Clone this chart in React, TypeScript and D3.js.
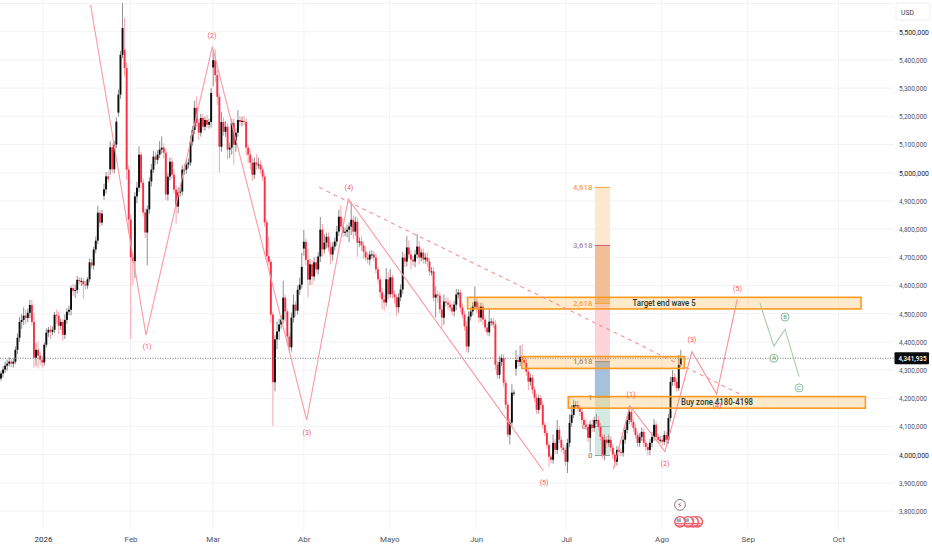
import * as d3 from 'd3';
import { useEffect, useRef } from 'react';

// 12h closes, ten sessions per row
const closes = [
  4288, 4302, 4316, 4323, 4330, 4323, 4330, 4372, 4415, 4471,
  4478, 4493, 4485, 4503, 4531, 4471, 4344, 4372, 4351, 4337,
  4327, 4390, 4433, 4443, 4436, 4443, 4496, 4493, 4457, 4471,
  4425, 4478, 4507, 4514, 4591, 4581, 4584, 4620, 4616, 4616,
  4604, 4600, 4622, 4682, 4671, 4728, 4759, 4858, 4823, 4855,
  4941, 4987, 4977, 5090, 5012, 5100, 5181, 5277, 5418, 5513,
  5371, 5011, 4834, 4700, 4686, 4916, 4947, 5064, 4965, 4859,
  4788, 4870, 4969, 5011, 5057, 5046, 5064, 5082, 5089, 5071,
  4923, 4986, 5039, 4993, 4940, 4880, 4930, 4933, 5011, 5011,
  5029, 5036, 5110, 5152, 5230, 5177, 5142, 5194, 5163, 5187,
  5170, 5180, 5283, 5399, 5346, 5269, 5092, 5180, 5145, 5163,
  5082, 5089, 5177, 5099, 5142, 5187, 5180, 5184, 5180, 5089,
  5064, 5036, 4993, 5036, 5029, 5029, 5011, 4986, 4824, 4704,
  4684, 4497, 4257, 4409, 4437, 4462, 4479, 4557, 4508, 4419,
  4381, 4486, 4532, 4511, 4585, 4603, 4666, 4755, 4691, 4621,
  4675, 4632, 4682, 4657, 4703, 4798, 4728, 4752, 4773, 4735,
  4710, 4738, 4756, 4791, 4844, 4809, 4787, 4791, 4798, 4809,
  4833, 4791, 4826, 4752, 4756, 4742, 4720, 4699, 4692, 4710,
  4710, 4699, 4657, 4622, 4576, 4551, 4540, 4622, 4569, 4629,
  4569, 4558, 4523, 4558, 4586, 4699, 4685, 4735, 4710, 4692,
  4685, 4710, 4738, 4699, 4717, 4692, 4699, 4685, 4650, 4650,
  4557, 4568, 4564, 4515, 4486, 4543, 4539, 4532, 4522, 4508,
  4532, 4568, 4575, 4522, 4497, 4455, 4384, 4490, 4508, 4525,
  4543, 4522, 4486, 4525, 4479, 4451, 4434, 4472, 4472, 4462,
  4319, 4283, 4329, 4343, 4255, 4177, 4071, 4114, 4220, 4220,
  4336, 4329, 4347, 4336, 4326, 4294, 4259, 4273, 4230, 4202,
  4159, 4201, 4176, 4106, 4077, 4035, 3993, 3982, 4042, 4017,
  4088, 4053, 4025, 4017, 3975, 4042, 4113, 4141, 4176, 4176,
  4166, 4152, 4123, 4106, 4099, 4060, 4106, 4095, 4123, 4123,
  4099, 4063, 4000, 4053, 4042, 4053, 4025, 4000, 3975, 4017,
  4010, 4007, 4053, 4088, 4123, 4152, 4116, 4095, 4070, 4042,
  4063, 4081, 4042, 4028, 4017, 4042, 4063, 4106, 4063, 4053,
  4053, 4046, 4070, 4053, 4130, 4258, 4275, 4258, 4236, 4319, 4341.935,
];

// upper wick above the body, USD
const wickUp = [
  10, 12, 14, 14, 16, 10, 12, 12, 15, 18,
  20, 30, 20, 15, 18, 18, 30, 25, 30, 12,
  12, 8, 15, 10, 15, 12, 10, 18, 15, 12,
  10, 20, 12, 14, 8, 15, 20, 14, 10, 12,
  10, 12, 8, 14, 12, 10, 15, 25, 10, 14,
  20, 15, 18, 22, 15, 12, 15, 18, 14, 88,
  113, 20, 15, 20, 15, 15, 20, 30, 10, 15,
  15, 14, 15, 20, 20, 18, 15, 30, 40, 15,
  15, 14, 15, 15, 18, 15, 18, 14, 15, 20,
  18, 15, 22, 14, 25, 40, 14, 15, 15, 12,
  18, 12, 18, 35, 40, 18, 14, 35, 15, 20,
  12, 18, 14, 15, 15, 35, 14, 14, 18, 14,
  10, 18, 15, 18, 30, 25, 15, 12, 12, 10,
  70, 8, 10, 15, 35, 20, 15, 60, 10, 10,
  15, 18, 35, 12, 15, 25, 50, 42, 12, 40,
  20, 15, 18, 20, 15, 45, 20, 30, 14, 15,
  18, 15, 14, 20, 25, 40, 30, 15, 18, 15,
  60, 15, 18, 14, 15, 18, 15, 20, 18, 14,
  15, 12, 14, 10, 12, 15, 15, 40, 25, 30,
  10, 12, 10, 15, 18, 20, 14, 40, 25, 15,
  12, 15, 45, 20, 14, 14, 15, 20, 12, 15,
  15, 30, 14, 14, 14, 25, 15, 18, 15, 14,
  14, 20, 12, 10, 14, 12, 18, 18, 15, 15,
  53, 15, 15, 14, 12, 12, 14, 45, 12, 14,
  15, 14, 20, 12, 14, 12, 10, 12, 30, 10,
  35, 18, 40, 45, 14, 14, 14, 14, 12, 12,
  14, 12, 12, 15, 10, 12, 12, 10, 30, 14,
  35, 14, 12, 12, 12, 14, 30, 35, 20, 14,
  15, 10, 14, 12, 20, 12, 15, 20, 12, 22,
  14, 14, 10, 18, 14, 18, 12, 12, 10, 14,
  10, 12, 15, 12, 14, 20, 12, 12, 14, 12,
  14, 15, 12, 12, 10, 14, 18, 20, 12, 10,
  14, 14, 14, 12, 15, 18, 25, 14, 14, 35, 30,
];

// lower wick under the body, USD
const wickDown = [
  8, 14, 12, 18, 10, 12, 14, 8, 16, 15,
  25, 18, 22, 15, 20, 12, 35, 30, 45, 20,
  18, 12, 10, 15, 25, 12, 12, 28, 30, 15,
  20, 15, 14, 12, 20, 18, 25, 12, 12, 18,
  50, 14, 12, 10, 12, 15, 14, 12, 15, 10,
  14, 15, 12, 20, 14, 15, 12, 14, 15, 12,
  30, 35, 40, 290, 85, 60, 25, 15, 20, 15,
  20, 116, 15, 18, 12, 18, 15, 12, 15, 20,
  20, 22, 14, 15, 14, 60, 25, 15, 14, 18,
  15, 14, 12, 14, 15, 14, 25, 14, 12, 15,
  12, 14, 20, 67, 25, 30, 92, 18, 14, 18,
  35, 30, 25, 70, 25, 15, 14, 15, 14, 30,
  30, 25, 22, 15, 18, 15, 14, 14, 15, 15,
  12, 30, 155, 32, 35, 30, 15, 14, 35, 30,
  18, 15, 18, 20, 14, 18, 14, 25, 20, 63,
  20, 30, 15, 14, 18, 20, 25, 15, 20, 15,
  35, 22, 14, 15, 15, 14, 15, 12, 20, 45,
  30, 25, 15, 50, 15, 20, 25, 12, 14, 20,
  15, 14, 15, 18, 20, 35, 30, 14, 18, 12,
  15, 22, 30, 20, 14, 15, 20, 18, 14, 35,
  15, 20, 14, 25, 14, 15, 15, 18, 14, 15,
  14, 70, 25, 15, 40, 25, 14, 18, 15, 14,
  18, 20, 14, 15, 14, 15, 20, 22, 14, 14,
  12, 20, 18, 15, 18, 14, 12, 14, 15, 14,
  18, 15, 14, 15, 14, 15, 10, 35, 15, 12,
  25, 18, 15, 14, 12, 14, 30, 14, 15, 15,
  15, 14, 15, 14, 12, 14, 35, 12, 14, 15,
  15, 12, 14, 14, 15, 40, 15, 14, 12, 14,
  12, 14, 15, 14, 12, 15, 50, 14, 14, 14,
  15, 12, 14, 20, 18, 14, 14, 15, 20, 14,
  15, 12, 14, 14, 12, 14, 14, 14, 12, 14,
  14, 14, 15, 14, 20, 18, 15, 14, 15, 12,
  12, 14, 12, 15, 14, 12, 14, 15, 12, 10, 8,
];

// sessions that opened away from the previous close: [session, open]
const gapOpens: [number, number][] = [
  [0, 4270], [50, 4918], [53, 5012], [57, 5213], [60, 5436],
  [103, 5373], [147, 4731], [250, 4305],
];

const priceTicks = d3.range(3800, 5600, 100);
const strongTicks = [5500, 5000, 4000];
const monthBars = [20.4, 62.9, 102.8, 147, 188.5, 230.6, 274.3, 320.7, 362.5, 406.5];
const monthNames = ['2026', 'Feb', 'Mar', 'Abr', 'Mayo', 'Jun', 'Jul', 'Ago', 'Sep', 'Oct'];
const lastPrice = 4341.935;

// Elliott counts: [session, price]
const impulseWave: [number, number][] = [[43.5, 5595], [70.4, 4424], [102.6, 5447], [148.4, 4123], [168.6, 4907], [263.3, 3943]];
const newImpulseWave: [number, number][] = [[297.2, 3948], [305.3, 4173], [322.3, 4011], [335.4, 4365], [347.4, 4215], [357.4, 4551]];
const correctionWave: [number, number][] = [[368.4, 4537], [375.2, 4385], [380.6, 4445], [387.4, 4277]];
const trendLine: [number, number][] = [[154.5, 4948], [359.6, 4212]];

const waveLabels: [string, number, number][] = [
  ['(1)', 70.9, 4382], ['(2)', 102.4, 5488], ['(3)', 148.5, 4077], ['(4)', 168.9, 4946], ['(5)', 263.6, 3900],
  ['(1)', 305.8, 4215], ['(2)', 322.3, 3967], ['(3)', 335.4, 4407], ['(4)', 347.6, 4176], ['(5)', 357.5, 4588],
];
const correctionLabels: [string, number, number][] = [['A', 375.2, 4342], ['B', 380.6, 4488], ['C', 387.4, 4237]];

// zones: [first session, last session, low, high]
const zones: [number, number, number, number][] = [
  [226.5, 417.5, 4517, 4558],
  [252.8, 331.7, 4306, 4348],
  [275.4, 419.6, 4165, 4206],
];
const zoneTexts: [string, number, number, number][] = [
  ['Target end wave 5', 321.9, 4538, 63],
  ['Buy zone 4180-4198', 347.6, 4187, 72],
];

// fib extension column
const fibStart = 288.3;
const fibEnd = 295.6;
const fibNames = ['0', '0,5', '1', '1,618', '2,618', '3,618', '4,618'];
const fibPrices = [3997, 4100, 4203, 4330, 4536, 4742, 4948];
const fibBandColors = ['#cfe9e2', '#d3ebe3', '#a6c1dc', '#fdd3da', '#f1be98', '#fee8cd'];
const fibLineColors = ['#9a9a9a', '#8fbfa8', '#b9a9a0', '#8a8a8a', '#f7a23b', '#c2607c', '#f7a23b'];
const fibTextColors = ['#8a8a8a', '#8a8a8a', '#8a8a8a', '#8a8a8a', '#f7a23b', '#a98e9c', '#f7a23b'];

const flagBars = [338, 336, 333.5, 329.6];
const flagPrice = 3762;
const boltBar = 329.6;
const boltPrice = 3822;

const WIDTH = 932;
const HEIGHT = 550;
const FONT = 'Roboto, "Noto Sans", sans-serif';
const RED = '#f7525f';
const GREEN = '#8dbd94';
const ORANGE = '#ff9a1f';

const App = () => {
  const svgRef = useRef<SVGSVGElement | null>(null);

  useEffect(() => {
    if (!svgRef.current) return;
    d3.select(svgRef.current).selectAll('*').remove();
    const svg = d3.select(svgRef.current);

    const x = d3.scaleLinear().domain([0, 330]).range([1, 680.8]);
    const y = d3.scaleLinear().domain([3800, 5500]).range([511.1, 31.7]);

    const candles = closes.map((close, i) => {
      const gap = gapOpens.find(g => g[0] === i);
      const open = gap ? gap[1] : closes[i - 1];
      return {
        i, open, close,
        high: Math.max(open, close) + wickUp[i],
        low: Math.min(open, close) - wickDown[i],
      };
    });

    svg.append('rect').attr('width', WIDTH).attr('height', HEIGHT).attr('fill', '#ffffff');

    // grid
    svg.append('g').selectAll('line').data([...priceTicks, 5600]).join('line')
      .attr('x1', 0).attr('x2', 894)
      .attr('y1', d => y(d)).attr('y2', d => y(d))
      .attr('stroke', '#f3f3f5');
    svg.append('g').selectAll('line').data(monthBars).join('line')
      .attr('x1', d => x(d)).attr('x2', d => x(d))
      .attr('y1', 0).attr('y2', 530)
      .attr('stroke', '#f3f3f5');

    // fib column
    const fib = svg.append('g');
    fib.selectAll('rect').data(fibBandColors).join('rect')
      .attr('x', x(fibStart)).attr('width', x(fibEnd) - x(fibStart))
      .attr('y', (_, i) => y(fibPrices[i + 1]))
      .attr('height', (_, i) => y(fibPrices[i]) - y(fibPrices[i + 1]))
      .attr('fill', d => d);
    fib.selectAll('line').data(fibPrices).join('line')
      .attr('x1', x(fibStart)).attr('x2', x(fibEnd))
      .attr('y1', d => y(d)).attr('y2', d => y(d))
      .attr('stroke', (_, i) => fibLineColors[i]);
    fib.selectAll('text').data(fibPrices).join('text')
      .attr('x', x(fibStart) - 2.5).attr('y', d => y(d))
      .attr('dy', '0.35em').attr('text-anchor', 'end')
      .attr('font-family', FONT).attr('font-size', 7.8).attr('font-weight', 500)
      .attr('fill', (_, i) => fibTextColors[i])
      .text((_, i) => fibNames[i]);

    // candles
    const bars = svg.append('g');
    bars.selectAll('line').data(candles).join('line')
      .attr('x1', d => x(d.i)).attr('x2', d => x(d.i))
      .attr('y1', d => y(d.high)).attr('y2', d => y(d.low))
      .attr('stroke', d => (d.close >= d.open ? '#8f8f8f' : '#f9a3ab'))
      .attr('stroke-width', 1);
    bars.selectAll('rect').data(candles).join('rect')
      .attr('x', d => x(d.i) - 0.95).attr('width', 1.9)
      .attr('y', d => y(Math.max(d.open, d.close)))
      .attr('height', d => Math.max(1, Math.abs(y(d.open) - y(d.close))))
      .attr('fill', d => (d.close >= d.open ? '#0c0c0c' : '#f92f45'));

    // last price line
    svg.append('line')
      .attr('x1', 0).attr('x2', 894)
      .attr('y1', y(lastPrice)).attr('y2', y(lastPrice))
      .attr('stroke', '#777').attr('stroke-dasharray', '1 1.5');

    // zones
    svg.append('g').selectAll('rect').data(zones).join('rect')
      .attr('x', d => x(d[0])).attr('width', d => x(d[1]) - x(d[0]))
      .attr('y', d => y(d[3])).attr('height', d => y(d[2]) - y(d[3]))
      .attr('fill', 'rgba(255,152,0,0.2)')
      .attr('stroke', ORANGE).attr('stroke-width', 1.6);
    svg.append('g').selectAll('text').data(zoneTexts).join('text')
      .attr('x', d => x(d[1])).attr('y', d => y(d[2]))
      .attr('dy', '0.35em').attr('text-anchor', 'middle')
      .attr('font-family', FONT).attr('font-size', 9).attr('font-weight', 500)
      .attr('fill', '#27382f')
      .attr('textLength', d => d[3]).attr('lengthAdjust', 'spacingAndGlyphs')
      .text(d => d[0]);

    // wave lines
    const line = d3.line<[number, number]>().x(d => x(d[0])).y(d => y(d[1]));
    const paths: [[number, number][], string, string, number][] = [
      [impulseWave, '#fa9aa3', 'none', 1.1],
      [newImpulseWave, '#fa8f99', 'none', 1.1],
      [correctionWave, '#a5cdaa', 'none', 1.1],
      [trendLine, '#f98f99', '4 4', 1.1],
    ];
    svg.append('g').selectAll('path').data(paths).join('path')
      .attr('d', d => line(d[0]))
      .attr('fill', 'none')
      .attr('stroke', d => d[1])
      .attr('stroke-dasharray', d => d[2])
      .attr('stroke-width', d => d[3]);

    svg.append('g').selectAll('text').data(waveLabels).join('text')
      .attr('x', d => x(d[1])).attr('y', d => y(d[2]))
      .attr('dy', '0.35em').attr('text-anchor', 'middle')
      .attr('font-family', FONT).attr('font-size', 7)
      .attr('fill', RED)
      .text(d => d[0]);

    const corr = svg.append('g').selectAll('g').data(correctionLabels).join('g')
      .attr('transform', d => `translate(${x(d[1])},${y(d[2])})`);
    corr.append('circle').attr('r', 4).attr('fill', 'none').attr('stroke', GREEN);
    corr.append('text').attr('dy', '0.35em').attr('text-anchor', 'middle')
      .attr('font-family', FONT).attr('font-size', 6).attr('fill', '#5e9a68')
      .text(d => d[0]);

    // event markers under the last bars
    const flags = svg.append('g').selectAll('g').data(flagBars).join('g')
      .attr('transform', d => `translate(${x(d)},${y(flagPrice)})`);
    flags.append('circle').attr('r', 5.2).attr('fill', '#fff').attr('stroke', '#f0525f').attr('stroke-width', 1.4);
    flags.append('rect').attr('x', -3.4).attr('y', -3.4).attr('width', 4.4).attr('height', 3.6).attr('fill', '#8fb3c0');
    flags.append('line').attr('x1', -4).attr('x2', 4).attr('y1', 1.6).attr('y2', 1.6).attr('stroke', '#f0525f');
    flags.append('line').attr('x1', -3).attr('x2', 3).attr('y1', 3.4).attr('y2', 3.4).attr('stroke', '#f0525f');
    const bolt = svg.append('g').attr('transform', `translate(${x(boltBar)},${y(boltPrice)})`);
    bolt.append('circle').attr('r', 5.4).attr('fill', '#fff').attr('stroke', '#8a7a80');
    bolt.append('text').attr('dy', '0.35em').attr('text-anchor', 'middle')
      .attr('font-family', FONT).attr('font-size', 8).attr('fill', '#b0405a').text('⚡︎');

    // axes
    const yAxis = svg.append('g').attr('transform', 'translate(899,0)')
      .call(d3.axisRight(y).tickValues(priceTicks).tickSize(0).tickPadding(0)
        .tickFormat(d => d3.format(',')(+d * 1000)));
    yAxis.select('.domain').remove();
    yAxis.selectAll<SVGTextElement, number>('text')
      .attr('font-family', FONT).attr('font-size', 7.6)
      .attr('fill', d => (strongTicks.includes(d) ? '#1f2430' : '#50535e'))
      .attr('textLength', d => (strongTicks.includes(d) ? 30 : 28))
      .attr('lengthAdjust', 'spacingAndGlyphs');

    const xAxis = svg.append('g').attr('transform', 'translate(0,534)')
      .call(d3.axisBottom(x).tickValues(monthBars).tickSize(0).tickPadding(2)
        .tickFormat((_, i) => monthNames[i]));
    xAxis.select('.domain').remove();
    xAxis.selectAll('text').attr('font-family', FONT).attr('font-size', 8).attr('fill', '#50535e');
    xAxis.select('text').attr('fill', '#1f2430');

    // last price tag
    svg.append('rect').attr('x', 894.5).attr('y', y(lastPrice) - 6).attr('width', 34.5).attr('height', 12)
      .attr('rx', 1).attr('fill', '#0b0b0b');
    svg.append('text').attr('x', 898.5).attr('y', y(lastPrice)).attr('dy', '0.36em')
      .attr('font-family', FONT).attr('font-size', 7.6).attr('font-weight', 500).attr('fill', '#fff')
      .attr('textLength', 28).attr('lengthAdjust', 'spacingAndGlyphs')
      .text(d3.format(',')(Math.round(lastPrice * 1000)));

    // currency box
    svg.append('rect').attr('x', 896).attr('y', 3).attr('width', 34).attr('height', 17)
      .attr('rx', 2).attr('fill', '#fff').attr('stroke', '#eeeeef');
    svg.append('text').attr('x', 901).attr('y', 14.5)
      .attr('font-family', FONT).attr('font-size', 6.8).attr('fill', '#3a3d46').text('USD');
  }, []);

  return <svg ref={svgRef} width={WIDTH} height={HEIGHT} style={{ position: 'fixed', left: 0, top: 0, display: 'block' }} />;
};

export default App;
